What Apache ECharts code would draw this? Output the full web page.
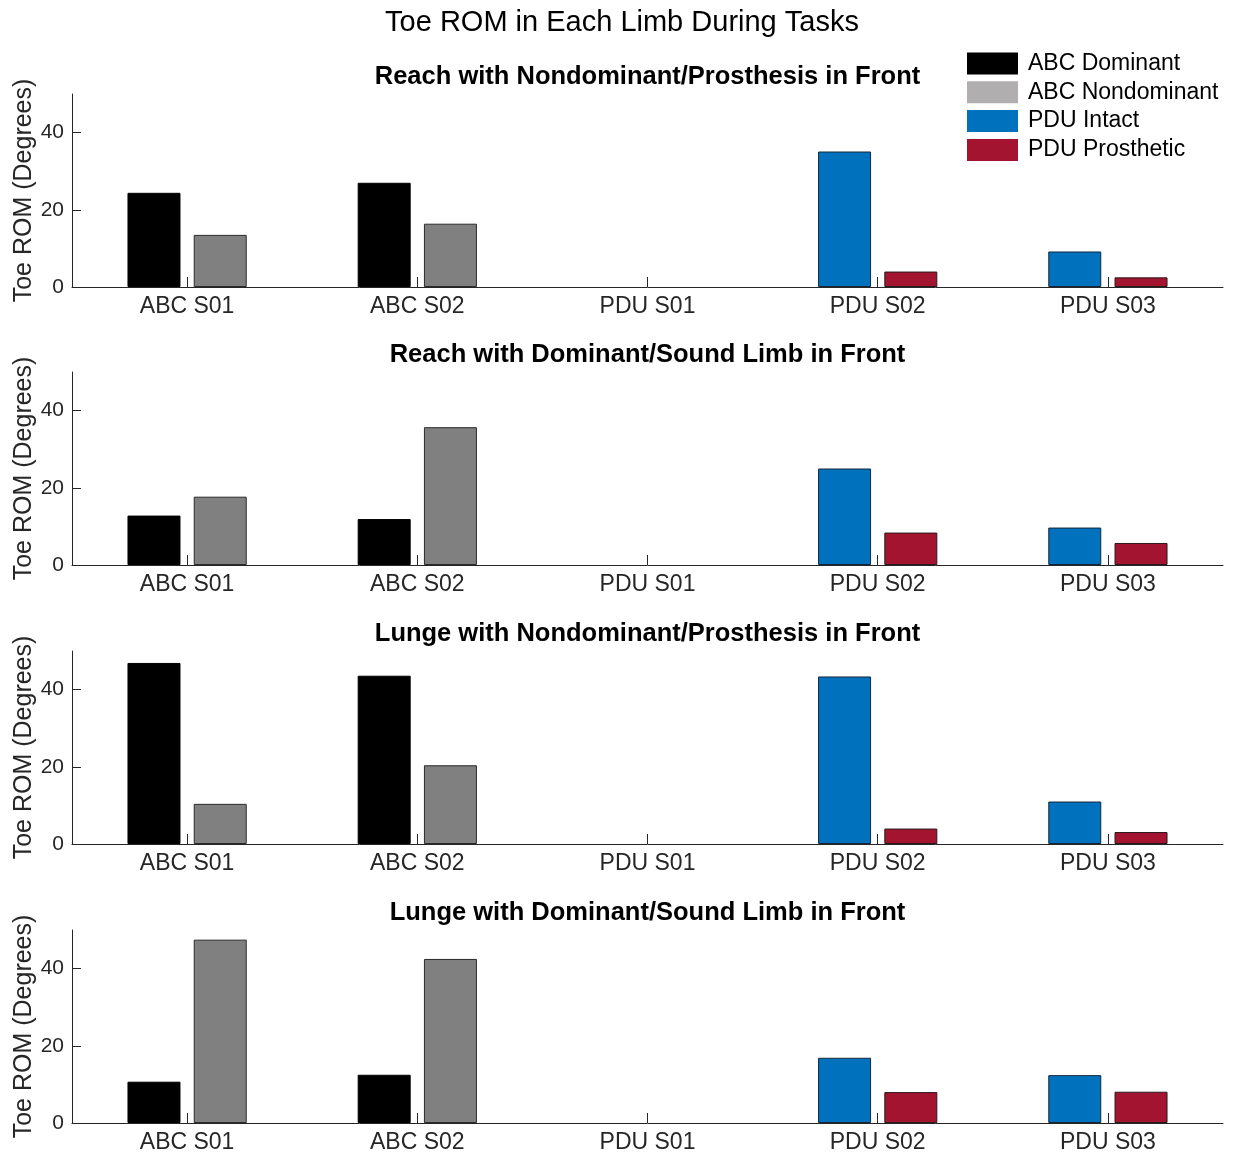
<!DOCTYPE html>
<html>
<head>
<meta charset="utf-8">
<title>Toe ROM in Each Limb During Tasks</title>
<script src="https://cdn.jsdelivr.net/npm/echarts@6/dist/echarts.min.js"></script>
<style>
  html, body { margin: 0; padding: 0; background: #fff; }
  #chart { width: 1233px; height: 1156px; }
</style>
</head>
<body>
<div id="chart"></div>
<script>
// Subjects along the x axis of every panel
const subjects = ['ABC S01', 'ABC S02', 'PDU S01', 'PDU S02', 'PDU S03'];

// One panel per task
const taskTitles = [
  'Reach with Nondominant/Prosthesis in Front',
  'Reach with Dominant/Sound Limb in Front',
  'Lunge with Nondominant/Prosthesis in Front',
  'Lunge with Dominant/Sound Limb in Front'
];

// Toe ROM (degrees), one row per task, one value per subject
const abcDominant = [
  [24.4, 27.0, null, null, null],
  [12.8, 11.9, null, null, null],
  [46.9, 43.6, null, null, null],
  [10.7, 12.5, null, null, null]
];
const abcNondominant = [
  [13.5, 16.4, null, null, null],
  [17.7, 35.7, null, null, null],
  [10.4, 20.4, null, null, null],
  [47.5, 42.5, null, null, null]
];
const pduIntact = [
  [null, null, null, 35.1, 9.2],
  [null, null, null, 25.0, 9.7],
  [null, null, null, 43.4, 11.0],
  [null, null, null, 16.9, 12.4]
];
const pduProsthetic = [
  [null, null, null, 4.0, 2.5],
  [null, null, null, 8.4, 5.7],
  [null, null, null, 4.0, 3.1],
  [null, null, null, 8.0, 8.1]
];

const yTicks = [0, 20, 40];
const yMax = 50;

const FONT = "'Liberation Sans', Arial, Helvetica, sans-serif";
const AX = '#262626';

const seriesDefs = [
  { name: 'ABC Dominant', values: abcDominant, color: '#000000', border: '#000000', side: 'L' },
  { name: 'ABC Nondominant', values: abcNondominant, color: '#808080', border: '#2a2a2a', side: 'R' },
  { name: 'PDU Intact', values: pduIntact, color: '#0072BD', border: '#16263a', side: 'L' },
  { name: 'PDU Prosthetic', values: pduProsthetic, color: '#A2142F', border: '#2a1a1a', side: 'R' }
];

const gridTops = [94, 372, 651, 930];
const gridHeight = 193;
const gridLeft = 72;
const gridWidth = 1151;

const grids = [], xAxes = [], yAxes = [], series = [], graphics = [];

gridTops.forEach((top, i) => {
  grids.push({
    left: gridLeft, top: top, width: gridWidth, height: gridHeight,
    containLabel: false, outerBoundsMode: 'none'
  });
  xAxes.push({
    type: 'category', gridIndex: i, data: subjects,
    axisLine: { show: true, lineStyle: { color: AX, width: 1 } },
    axisTick: { show: true, alignWithLabel: true, inside: true, length: 10, interval: 0, lineStyle: { color: AX, width: 1 } },
    axisLabel: { color: AX, fontFamily: FONT, fontSize: 23, margin: 8 },
    splitLine: { show: false }
  });
  yAxes.push({
    type: 'value', gridIndex: i, min: 0, max: yMax,
    name: 'Toe ROM (Degrees)', nameLocation: 'middle', nameGap: 35, nameMoveOverlap: false,
    nameTextStyle: { color: AX, fontFamily: FONT, fontSize: 25 },
    axisLine: { show: true, lineStyle: { color: AX, width: 1 } },
    axisTick: { show: true, inside: true, length: 9, customValues: yTicks, lineStyle: { color: AX } },
    axisLabel: { color: AX, fontFamily: FONT, fontSize: 21, margin: 8, customValues: yTicks },
    splitLine: { show: false }
  });
  seriesDefs.forEach(def => {
    series.push({
      type: 'bar', name: def.name, xAxisIndex: i, yAxisIndex: i,
      stack: def.side + i,
      data: def.values[i],
      barWidth: 53, barGap: '25%',
      itemStyle: { color: def.color, borderColor: def.border, borderWidth: 1 },
      emphasis: { disabled: true },
      animation: false
    });
  });
  graphics.push({
    type: 'text', x: gridLeft + gridWidth / 2, y: top - 17,
    style: {
      text: taskTitles[i], textAlign: 'center', textVerticalAlign: 'middle',
      font: 'bold 25.5px ' + FONT, fill: '#000'
    }
  });
});

graphics.push({
  type: 'text', x: 622, y: 23,
  style: {
    text: 'Toe ROM in Each Limb During Tasks', textAlign: 'center', textVerticalAlign: 'middle',
    font: '29px ' + FONT, fill: '#000'
  }
});

const chart = echarts.init(document.getElementById('chart'), null, { renderer: 'canvas' });
chart.setOption({
  backgroundColor: '#ffffff',
  animation: false,
  grid: grids,
  xAxis: xAxes,
  yAxis: yAxes,
  series: series,
  graphic: graphics,
  legend: {
    orient: 'vertical', left: 967, top: 52, padding: 0,
    itemWidth: 51, itemHeight: 22, itemGap: 5.8,
    icon: 'rect',
    itemStyle: { borderWidth: 0 },
    textStyle: { fontFamily: FONT, fontSize: 23, color: '#000', padding: [0, 0, 0, 5] },
    data: [
      { name: 'ABC Dominant', itemStyle: { color: '#000000' } },
      { name: 'ABC Nondominant', itemStyle: { color: '#b0aeae' } },
      { name: 'PDU Intact', itemStyle: { color: '#0072BD' } },
      { name: 'PDU Prosthetic', itemStyle: { color: '#A2142F' } }
    ]
  }
});
</script>
</body>
</html>
